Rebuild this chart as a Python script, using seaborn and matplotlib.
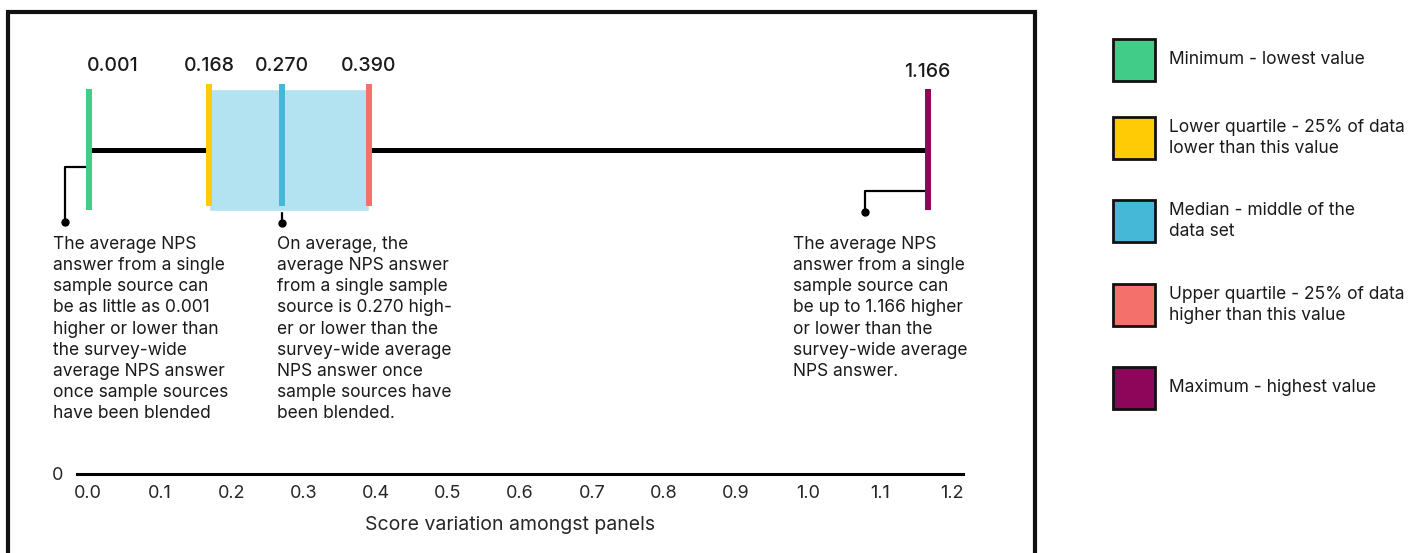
import matplotlib
matplotlib.use("Agg")
import matplotlib.pyplot as plt
from matplotlib.patches import Rectangle
import seaborn as sns

# box plot summary values (score variation amongst panels)
stat_values = [0.001, 0.168, 0.270, 0.390, 1.166]
stat_labels = ['0.001', '0.168', '0.270', '0.390', '1.166']
stat_colors = ['#41cd88', '#ffcb05', '#45b8d8', '#f4716b', '#8e0659']
legend_labels = ['Minimum - lowest value',
                 'Lower quartile - 25% of data\nlower than this value',
                 'Median - middle of the\ndata set',
                 'Upper quartile - 25% of data\nhigher than this value',
                 'Maximum - highest value']
x_ticks = [0.0, 0.1, 0.2, 0.3, 0.4, 0.5, 0.6, 0.7, 0.8, 0.9, 1.0, 1.1, 1.2]

note_min = ("The average NPS\nanswer from a single\nsample source can\nbe as little as 0.001\n"
            "higher or lower than\nthe survey-wide\naverage NPS answer\nonce sample sources\n"
            "have been blended")
note_med = ("On average, the\naverage NPS answer\nfrom a single sample\nsource is 0.270 high-\n"
            "er or lower than the\nsurvey-wide average\nNPS answer once\nsample sources have\n"
            "been blended.")
note_max = ("The average NPS\nanswer from a single\nsample source can\nbe up to 1.166 higher\n"
            "or lower than the\nsurvey-wide average\nNPS answer.")

sns.set_theme(style='white')
plt.rcParams['font.family'] = ['Inter', 'DejaVu Sans']
plt.rcParams['text.color'] = '#1a1a1a'

W, H = 1416, 553
fig = plt.figure(figsize=(W / 100, H / 100), dpi=100)
fig.patch.set_facecolor('white')

# outer frame
fig.patches.append(Rectangle((8 / W, -0.1), 1027 / W, (H - 12) / H + 0.1,
                             transform=fig.transFigure, fill=False,
                             edgecolor='#111111', linewidth=3))

ax = fig.add_axes([77 / W, (H - 474) / H, 886 / W, 464 / H])
ax.set_xlim(-11 / 720, 1.2 + 11 / 720)
ax.set_ylim(0, 1)

vmin, q1, med, q3, vmax = stat_values
yc = 0.698
box_lo, box_hi = 0.578, 0.841
wh_lo, wh_hi = 0.569, 0.830

# whisker line
ax.plot([vmin, vmax], [yc, yc], color='black', lw=3.6, solid_capstyle='butt', zorder=1)
# box
ax.barh(yc, q3 - q1, left=q1, height=box_hi - box_lo, color='#b3e2f0', zorder=2)
ax.vlines([q1, med, q3], box_lo, box_hi, colors=stat_colors[1:4], lw=4.3, zorder=3)
ax.vlines([vmin, vmax], wh_lo, wh_hi, colors=[stat_colors[0], stat_colors[4]], lw=4.3, zorder=3)

# value labels
lab_fs = 14
ax.text(vmin - 0.002, 0.869, stat_labels[0], ha='left', va='baseline', fontsize=lab_fs, fontweight='medium')
for v, s in zip(stat_values[1:4], stat_labels[1:4]):
    ax.text(v, 0.869, s, ha='center', va='baseline', fontsize=lab_fs, fontweight='medium')
ax.text(vmax, 0.856, stat_labels[4], ha='center', va='baseline', fontsize=lab_fs, fontweight='medium')

# connectors from the marks to the notes
cx_min, cx_max = -0.032, 1.079
ax.plot([vmin, cx_min, cx_min], [0.662, 0.662, 0.543], color='black', lw=1.6, zorder=1, clip_on=False)
ax.plot([cx_min], [0.543], 'o', color='black', ms=5, clip_on=False)
ax.plot([med, med], [box_lo, 0.541], color='black', lw=1.6, zorder=1)
ax.plot([med], [0.541], 'o', color='black', ms=5)
ax.plot([vmax, cx_max, cx_max], [0.610, 0.610, 0.565], color='black', lw=1.6, zorder=1)
ax.plot([cx_max], [0.565], 'o', color='black', ms=5)

note_fs = 12.5
ax.text(-0.049, 0.513, note_min, ha='left', va='top', fontsize=note_fs, linespacing=1.32)
ax.text(0.2625, 0.513, note_med, ha='left', va='top', fontsize=note_fs, linespacing=1.32)
ax.text(0.979, 0.513, note_max, ha='left', va='top', fontsize=note_fs, linespacing=1.32)

# axis styling
sns.despine(ax=ax, left=True, top=True, right=True)
ax.spines['bottom'].set_linewidth(2.2)
ax.spines['bottom'].set_color('black')
ax.set_xticks(x_ticks)
ax.set_xticklabels([f'{t:.1f}' for t in x_ticks], fontsize=13)
ax.set_yticks([0])
ax.set_yticklabels(['0'], fontsize=13)
ax.tick_params(axis='x', length=0, pad=8)
ax.tick_params(axis='y', length=0, pad=10)
ax.set_xlabel('Score variation amongst panels', fontsize=14)
ax.xaxis.set_label_coords((510 - 77) / 886, -42 / 464)
ax.grid(False)
ax.patch.set_alpha(0)

# legend, drawn as squares with labels in figure pixels
leg_centers = [60, 138, 221, 305, 388]
for c, lab, yc_px in zip(stat_colors, legend_labels, leg_centers):
    fig.patches.append(Rectangle((1113 / W, (H - yc_px - 21) / H), 42 / W, 42 / H,
                                 transform=fig.transFigure, facecolor=c,
                                 edgecolor='#111111', linewidth=2))
    fig.text(1169 / W, (H - yc_px) / H, lab, ha='left', va='center',
             fontsize=12.5, linespacing=1.3)

fig.savefig('out.png', dpi=100)
